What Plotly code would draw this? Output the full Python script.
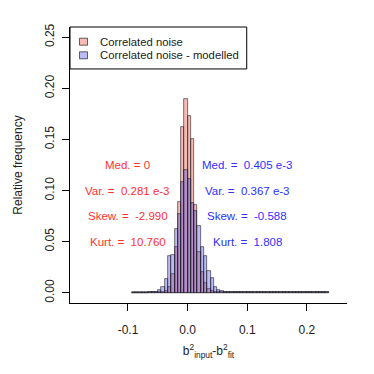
import numpy as np
import plotly.graph_objects as go

# ---- data ----
bin_width = 0.0055
first_bin_index = -17          # bins start at first_bin_index * bin_width
# relative frequency, Correlated noise (red)
red_freq = [
    0.0000, 0.0000, 0.0000, 0.0000, 0.0000, 0.0003, 0.0003, 0.0004,  # k=-17..-10
    0.0005, 0.0008, 0.0015, 0.0060, 0.0180, 0.0450, 0.0890, 0.1625,  # k=-9..-2
    0.1900, 0.1730, 0.1500, 0.0860, 0.0400, 0.0200, 0.0100, 0.0040,  # k=-1..6
    0.0020, 0.0010, 0.0008, 0.0006, 0.0005, 0.0004, 0.0004, 0.0003,  # k=7..14
    0.0003, 0.0003, 0.0003, 0.0003, 0.0003, 0.0003, 0.0003, 0.0003,  # k=15..22
    0.0003, 0.0003, 0.0003, 0.0003, 0.0003, 0.0005, 0.0003, 0.0003,  # k=23..30
    0.0003, 0.0003, 0.0003, 0.0003, 0.0003, 0.0003, 0.0003, 0.0003,  # k=31..38
    0.0003, 0.0003, 0.0003, 0.0003,                                  # k=39..42
]
# relative frequency, Correlated noise - modelled (blue)
blue_freq = [
    0.0004, 0.0005, 0.0004, 0.0006, 0.0005, 0.0008, 0.0010, 0.0012,  # k=-17..-10
    0.0030, 0.0060, 0.0137, 0.0360, 0.0370, 0.0620, 0.0770, 0.1080,  # k=-9..-2
    0.1200, 0.1110, 0.0880, 0.0800, 0.0650, 0.0450, 0.0360, 0.0210,  # k=-1..6
    0.0140, 0.0060, 0.0030, 0.0020, 0.0012, 0.0010, 0.0008, 0.0006,  # k=7..14
    0.0005, 0.0005, 0.0004, 0.0005, 0.0004, 0.0005, 0.0004, 0.0005,  # k=15..22
    0.0004, 0.0005, 0.0004, 0.0005, 0.0006, 0.0012, 0.0006, 0.0004,  # k=23..30
    0.0004, 0.0004, 0.0004, 0.0004, 0.0004, 0.0004, 0.0004, 0.0004,  # k=31..38
    0.0004, 0.0004, 0.0004, 0.0004,                                  # k=39..42
]
series_names = ["Correlated noise", "Correlated noise - modelled"]

red_stats = ["Med. = 0", "Var. =  0.281 e-3", "Skew. =  -2.990", "Kurt. =  10.760"]
blue_stats = ["Med. =  0.405 e-3", "Var. =  0.367 e-3", "Skew. =  -0.588", "Kurt. =  1.808"]
stats_y = [0.125, 0.100, 0.075, 0.050]
red_stats_x = -0.1
blue_stats_x = 0.1

x_ticks = [-0.1, 0.0, 0.1, 0.2]
x_ticklabels = ["-0.1", "0.0", "0.1", "0.2"]
y_ticks = [0.00, 0.05, 0.10, 0.15, 0.20, 0.25]
y_ticklabels = ["0.00", "0.05", "0.10", "0.15", "0.20", "0.25"]

# ---- figure ----
n = len(red_freq)
centers = (np.arange(n) + first_bin_index + 0.5) * bin_width

FONT = "Liberation Sans, Arial, sans-serif"
edge = dict(color="rgba(30,30,30,0.85)", width=0.7)
RED_FILL = "rgba(230,60,40,0.35)"
BLUE_FILL = "rgba(60,60,230,0.35)"
fills = [RED_FILL, BLUE_FILL]

def keep_spaces(s):
    return s.replace("  ", " &nbsp;")

fig = go.Figure()
fig.add_trace(go.Bar(x=centers, y=red_freq, width=bin_width, name=series_names[0],
                     showlegend=False, marker=dict(color=RED_FILL, line=edge)))
fig.add_trace(go.Bar(x=centers, y=blue_freq, width=bin_width, name=series_names[1],
                     showlegend=False, marker=dict(color=BLUE_FILL, line=edge)))

for txt, yy in zip(red_stats, stats_y):
    fig.add_annotation(x=red_stats_x, y=yy, text=keep_spaces(txt), showarrow=False,
                       font=dict(color="#ff3030", size=11.5, family=FONT))
for txt, yy in zip(blue_stats, stats_y):
    fig.add_annotation(x=blue_stats_x, y=yy, text=keep_spaces(txt), showarrow=False,
                       font=dict(color="#3030ff", size=11.5, family=FONT))

# legend box drawn in paper coordinates (R-style legend)
fig.add_shape(type="rect", xref="paper", yref="paper", x0=0, x1=0.638, y0=0.848, y1=1.0,
              line=dict(color="black", width=1), fillcolor="white", layer="above")
row_y = [0.9467, 0.8975]
for name, fc, ry in zip(series_names, fills, row_y):
    fig.add_shape(type="rect", xref="paper", yref="paper",
                  x0=0.0343, x1=0.0632, y0=ry - 0.0127, y1=ry + 0.0127,
                  line=dict(color="rgba(30,30,30,0.85)", width=0.8), fillcolor=fc, layer="above")
    fig.add_annotation(xref="paper", yref="paper", x=0.1, y=ry, text=name,
                       xanchor="left", yanchor="middle", showarrow=False,
                       font=dict(size=11.3, family=FONT, color="#222"))

fig.update_layout(
    width=366, height=366,
    margin=dict(l=62, r=27, t=19, b=71),
    paper_bgcolor="white", plot_bgcolor="white",
    barmode="overlay", bargap=0, showlegend=False,
    font=dict(family=FONT, size=12, color="#222"),
    xaxis=dict(range=[-0.1972, 0.2672], showgrid=False, zeroline=False,
               automargin=False,
               showline=True, linecolor="black", linewidth=1,
               ticks="outside", ticklen=7, tickcolor="black",
               tickvals=x_ticks, ticktext=x_ticklabels, ticklabelstandoff=9,
               title=dict(text="b<sup>2</sup><sub>input</sub>-b<sup>2</sup><sub>fit</sub>",
                          font=dict(size=12), standoff=10)),
    yaxis=dict(range=[-0.01, 0.26], showgrid=False, zeroline=False,
               automargin=False,
               showline=True, linecolor="black", linewidth=1,
               ticks="outside", ticklen=7, tickcolor="black",
               tickvals=y_ticks, ticktext=y_ticklabels, tickangle=-90,
               ticklabelstandoff=3,
               title=dict(text="Relative frequency", font=dict(size=12), standoff=18)),
)

fig.write_html("out.html")
